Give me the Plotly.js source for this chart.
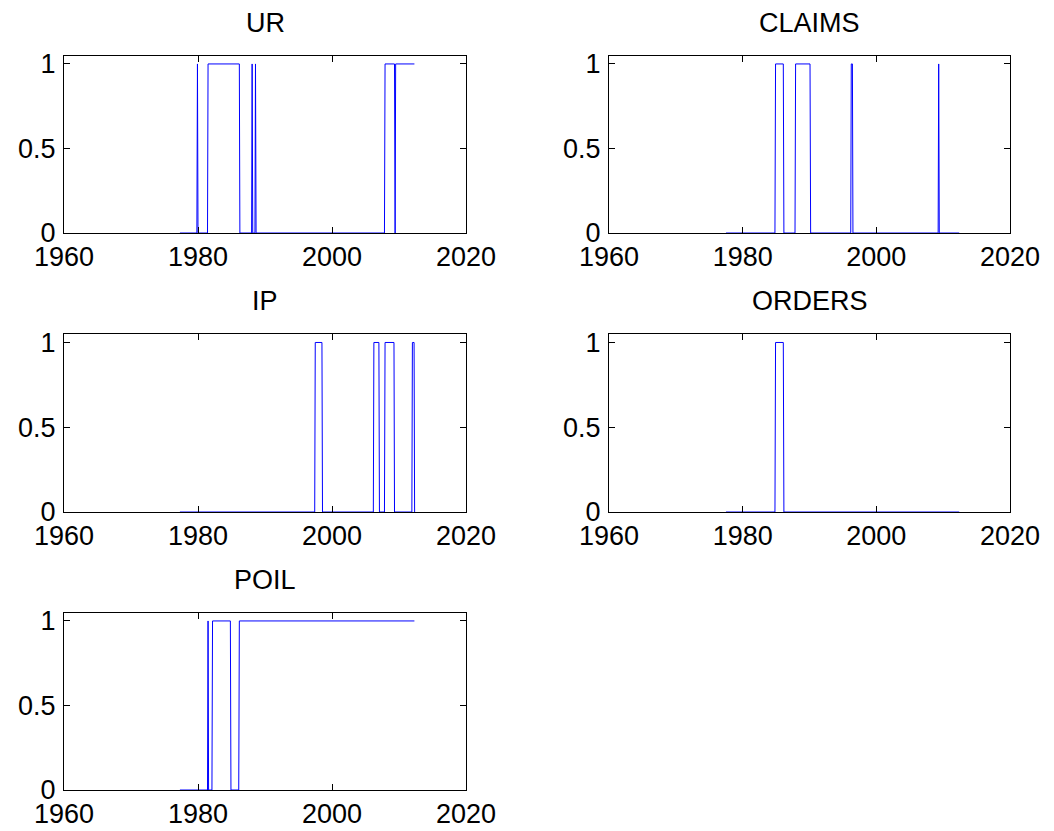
<!DOCTYPE html>
<html>
<head>
<meta charset="utf-8">
<script src="https://cdn.plot.ly/plotly-3.0.1.min.js"></script>
<style>html,body{margin:0;padding:0;background:#fff;}#chart{width:1054px;height:831px;}</style>
</head>
<body>
<div id="chart"></div>
<script>
// Panel names
var panelNames = ["UR", "CLAIMS", "IP", "ORDERS", "POIL"];

// Series (time in years, value 0/1)
var urX = [1977.3, 1979.83, 1979.92, 1980.0, 1981.42, 1981.5, 1986.17, 1986.25, 1988.0, 1988.08, 1988.17, 1988.5, 1988.58, 1988.67, 2007.83, 2007.92, 2009.33, 2009.42, 2009.5, 2012.3];
var urY = [0, 0, 1, 0, 0, 1, 1, 0, 0, 1, 0, 0, 1, 0, 0, 1, 1, 0, 1, 1];

var claimsX = [1977.5, 1984.83, 1984.92, 1986.08, 1986.17, 1987.83, 1987.92, 1990.08, 1990.17, 1996.17, 1996.25, 1996.42, 1996.5, 2009.25, 2009.33, 2009.42, 2012.4];
var claimsY = [0, 0, 1, 1, 0, 0, 1, 1, 0, 0, 1, 1, 0, 0, 1, 0, 0];

var ipX = [1977.3, 1997.42, 1997.5, 1998.5, 1998.58, 2006.17, 2006.25, 2007.0, 2007.08, 2007.83, 2007.92, 2009.25, 2009.33, 2011.92, 2012.0, 2012.25, 2012.33];
var ipY = [0, 0, 1, 1, 0, 0, 1, 1, 0, 0, 1, 1, 0, 0, 1, 1, 0];

var ordersX = [1977.5, 1984.83, 1984.92, 1986.08, 1986.17, 2012.4];
var ordersY = [0, 0, 1, 1, 0, 0];

var poilX = [1977.3, 1981.42, 1981.5, 1981.58, 1982.08, 1982.17, 1984.83, 1984.92, 1986.08, 1986.17, 2012.3];
var poilY = [0, 0, 1, 0, 0, 1, 1, 0, 0, 1, 1];

var xTicks = [1960, 1980, 2000, 2020];
var yTicks = [0, 0.5, 1];
var yTickText = ["0", "0.5", "1"];

var seriesX = [urX, claimsX, ipX, ordersX, poilX];
var seriesY = [urY, claimsY, ipY, ordersY, poilY];

var W = 1054, H = 831;
var colPx = [[64, 466], [609, 1010]];
var rowPx = [[55.5, 233], [334, 512], [612.5, 790]];
var FONT = "Liberation Sans, Arial, sans-serif";
var FS = 27;

var traces = [];
var layout = {
  width: W, height: H,
  margin: {l: 0, r: 0, t: 0, b: 0},
  paper_bgcolor: "#fff", plot_bgcolor: "#fff",
  showlegend: false,
  font: {family: FONT, size: FS, color: "#000"},
  annotations: []
};

for (var i = 0; i < panelNames.length; i++) {
  var r = Math.floor(i / 2), c = i % 2;
  var n = i + 1;
  var xa = "x" + (n === 1 ? "" : n), ya = "y" + (n === 1 ? "" : n);
  var xk = "xaxis" + (n === 1 ? "" : n), yk = "yaxis" + (n === 1 ? "" : n);
  traces.push({
    x: seriesX[i], y: seriesY[i], xaxis: xa, yaxis: ya,
    type: "scatter", mode: "lines",
    line: {color: "#0000ff", width: 1}, hoverinfo: "skip"
  });
  var common = {
    showline: true, linecolor: "#000", linewidth: 1, mirror: "ticks",
    ticks: "inside", ticklen: 6, tickwidth: 1, tickcolor: "#000",
    showgrid: false, zeroline: false,
    tickfont: {family: FONT, size: FS, color: "#000"}
  };
  layout[xk] = Object.assign({}, common, {
    domain: [colPx[c][0] / W, colPx[c][1] / W],
    range: [1960, 2020], tickmode: "array", tickvals: xTicks,
    anchor: ya, ticklabelstandoff: 0
  });
  layout[yk] = Object.assign({}, common, {
    domain: [1 - rowPx[r][1] / H, 1 - rowPx[r][0] / H],
    range: [0, 1.05], tickmode: "array", tickvals: yTicks, ticktext: yTickText,
    anchor: xa, ticklabelstandoff: 2
  });
  layout.annotations.push({
    text: panelNames[i], showarrow: false,
    xref: "paper", yref: "paper",
    x: (colPx[c][0] + colPx[c][1]) / 2 / W,
    y: 1 - (rowPx[r][0] - 16) / H,
    xanchor: "center", yanchor: "bottom",
    font: {family: FONT, size: FS, color: "#000"}
  });
}

Plotly.newPlot("chart", traces, layout, {staticPlot: true});
</script>
</body>
</html>
